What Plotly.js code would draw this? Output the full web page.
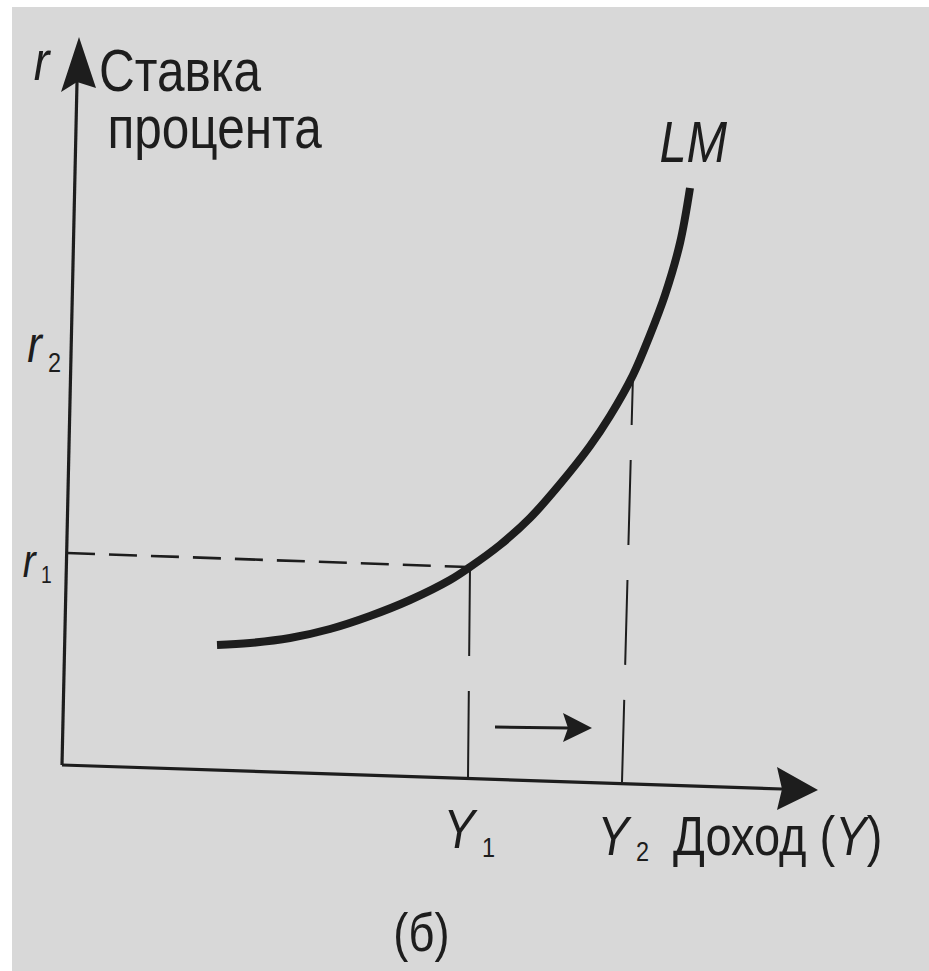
<!DOCTYPE html>
<html>
<head>
<meta charset="utf-8">
<script src="https://cdn.plot.ly/plotly-3.0.1.min.js"></script>
<style>
body{margin:0;background:#fff;}
#chart{width:929px;height:971px;}
</style>
</head>
<body>
<div id="chart"></div>
<script>
// units: income Y along x, interest rate r along y (the scan is tilted a little)
var lmY = [1.55, 1.88, 2.28, 2.68, 3.08, 3.48, 3.88, 4.08, 4.38, 4.68, 4.98, 5.28, 5.48, 5.71, 5.88, 6.03, 6.18, 6.28];
var lmR = [1.20, 1.22, 1.27, 1.36, 1.49, 1.65, 1.85, 1.98, 2.20, 2.47, 2.81, 3.19, 3.49, 3.90, 4.30, 4.70, 5.22, 5.77];

// axes: origin, end of the shaft, arrow tip
var xAxisX = [0, 7.20], xAxisY = [0, -0.24], xTip = [7.56, -0.25];
var yAxisX = [0, 0.15], yAxisY = [0, 6.83], yTip = [0.17, 7.28];

// guide lines
var r1LineX = [0.05, 4.06], r1LineY = [2.12, 1.98];
var y1LineX = [4.08, 4.06], y1LineY = [1.98, -0.13];
var y2LineX = [5.71, 5.60], y2LineY = [3.90, -0.17];

// shift arrow Y1 -> Y2
var shiftX = [4.33, 5.06], shiftY = [0.38, 0.37], shiftTip = [5.30, 0.37];

var ink = '#1d1d1d';
var fam = 'Liberation Sans, Arial, sans-serif';
var squeeze = 0.84;   // the book uses a narrow face

function seg(x, y, w, dash) {
    return {x: x, y: y, mode: 'lines', hoverinfo: 'skip',
        line: {color: ink, width: w, dash: dash || 'solid'}};
}

var traces = [
    seg(xAxisX, xAxisY, 3.2),
    seg(yAxisX, yAxisY, 3.2),
    seg(r1LineX, r1LineY, 2.6, '28px,14px'),
    seg(y1LineX, y1LineY, 2, '89px,35px,86px'),
    seg(y2LineX, y2LineY, 2, '50px,35px,85px,35px,85px,35px,85px'),
    seg(shiftX, shiftY, 3),
    {x: lmY, y: lmR, mode: 'lines', hoverinfo: 'skip',
        line: {color: ink, width: 8, shape: 'spline', smoothing: 1}}
];

function head(tip, path) {
    return {type: 'path', xref: 'x', yref: 'y', xsizemode: 'pixel', ysizemode: 'pixel',
        xanchor: tip[0], yanchor: tip[1], path: path, fillcolor: ink, line: {width: 0}};
}

var shapes = [
    head(yTip, 'M0,0 L-18,-55 L-2,-45 L17,-51 Z'),
    head(xTip, 'M0,0 L-41,23 L-36,1 L-41,-20 Z'),
    head(shiftTip, 'M0,0 L-29,15 L-24,0 L-29,-14 Z')
];

function lbl(x, y, text, size, anchor, yanchor) {
    return {x: x, y: y, xref: 'x', yref: 'y', text: text,
        showarrow: false, xanchor: anchor || 'center', yanchor: yanchor || 'middle',
        align: 'left', font: {family: fam, size: size, color: ink}};
}

var annotations = [
    lbl(-0.20, 7.05, '<i>r</i>', 56),
    lbl(0.35, 7.29, 'Ставка<br>процента', 59, 'left', 'top'),
    lbl(6.31, 6.24, '<i>LM</i>', 58),
    // r2, r1
    lbl(-0.16, 4.21, '<i>r</i>', 52, 'right'),
    lbl(-0.16, 4.03, '2', 28, 'left'),
    lbl(-0.23, 2.04, '<i>r</i>', 46, 'right'),
    lbl(-0.23, 1.90, '1', 23, 'left'),
    // Y1, Y2
    lbl(4.18, -0.63, '<i>Y</i>', 56, 'right'),
    lbl(4.18, -0.82, '1', 28, 'left'),
    lbl(5.72, -0.70, '<i>Y</i>', 56, 'right'),
    lbl(5.72, -0.86, '2', 28, 'left'),
    lbl(6.09, -0.70, 'Доход (<i>Y</i>)', 56, 'left'),
    lbl(3.59, -1.67, '(б)', 54)
];

var layout = {
    width: 929, height: 971,
    margin: {l: 12, r: 0, t: 7, b: 0},
    paper_bgcolor: '#ffffff',
    plot_bgcolor: '#d8d8d8',
    showlegend: false,
    xaxis: {range: [-0.50, 8.67], visible: false, fixedrange: true},
    yaxis: {range: [-2.06, 7.58], visible: false, fixedrange: true},
    shapes: shapes,
    annotations: annotations
};

Plotly.newPlot('chart', traces, layout, {staticPlot: true, displayModeBar: false}).then(function(gd) {
    gd.querySelectorAll('g.annotation').forEach(function(g) {
        var a = gd.layout.annotations[+g.getAttribute('data-index')];
        var t = g.querySelector('text.annotation-text');
        // the two-line axis title sits tighter than plotly's 1.3em
        var lines = t.querySelectorAll('tspan.line');
        if(lines.length > 1) {
            lines[1].setAttribute('dy', '57px');
            lines[1].setAttribute('dx', '10');
        }
        // narrow the lettering, keeping each label's anchor in place
        var b = t.getBBox();
        var ox = b.x + b.width / 2;
        if(a.xanchor === 'left') ox = b.x;
        if(a.xanchor === 'right') ox = b.x + b.width;
        t.setAttribute('transform', 'translate(' + ox + ',0) scale(' + squeeze + ',1) translate(' + (-ox) + ',0)');
    });
});
</script>
</body>
</html>
